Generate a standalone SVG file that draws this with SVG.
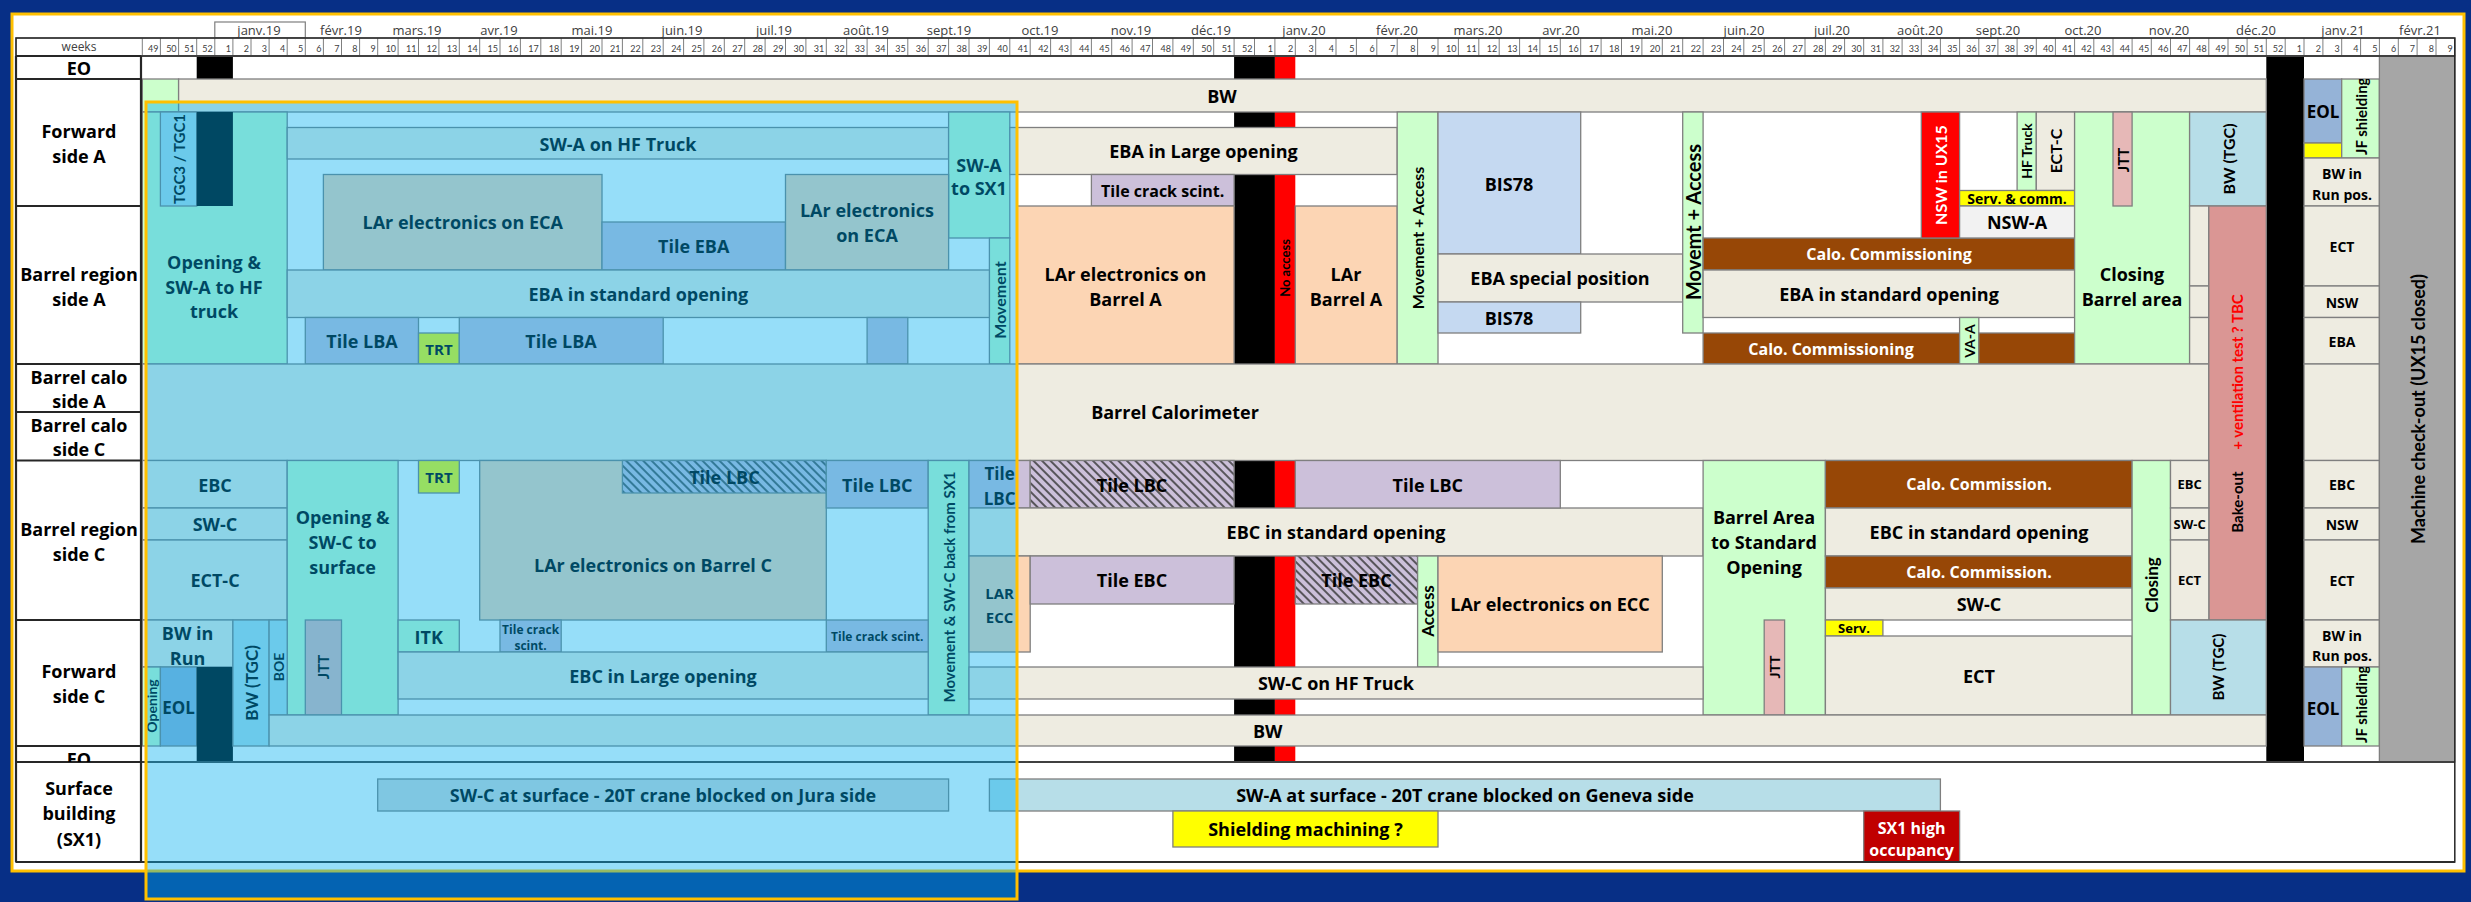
<svg xmlns="http://www.w3.org/2000/svg" width="2471" height="902" viewBox="0 0 2471 902">
<defs>
<style>
.t{font-family:"Open Sans",Lato,"Liberation Sans",sans-serif;font-weight:700;font-size:18px;text-anchor:middle;dominant-baseline:central;fill:#000}
.v{font-family:Lato,"Open Sans","Liberation Sans",sans-serif}
.lb{font-size:18px}
.wk{font-family:Lato,"Liberation Sans",sans-serif;font-size:9px;text-anchor:end;fill:#404040}
.mo{font-family:"Open Sans","Liberation Sans",sans-serif;font-size:13px;text-anchor:middle;fill:#404040}
.r{stroke:#7f7f7f;stroke-width:1.3}
.bg{fill:#EEECE1}.lav{fill:#CCC0DA}.pch{fill:#FCD5B4}.grn{fill:#CCFFCC}.aq{fill:#B7DEE8}.bis{fill:#C5D9F1}.brn{fill:#974706}.red{fill:#FF0000}.pk{fill:#E6B8B7}.bko{fill:#DA9694}.eol{fill:#95B3D7}.yel{fill:#FFFF00}.gry{fill:#A6A6A6}.nsw{fill:#F2F2F2}.sg{fill:#D9D9D9}.dr{fill:#C00000}.hat{fill:url(#hatch)}.blk{fill:#000}
.wt{fill:#fff}.rt{fill:#FF0000}.st{text-anchor:start}
.s12{font-size:12px}.s13{font-size:13px}.s14{font-size:14px}.s15{font-size:15px}.s16{font-size:16px}.s17{font-size:17px}.s20{font-size:20px}
</style>
<pattern id="hatch" patternUnits="userSpaceOnUse" width="6" height="6" patternTransform="rotate(-45)"><rect width="6" height="6" fill="#CCC0DA"/><line x1="3" y1="0" x2="3" y2="6" stroke="#3a3a3a" stroke-width="1.6"/></pattern>
<clipPath id="cj1"><rect x="2341.7" y="79" width="37.7" height="79"/></clipPath>
<clipPath id="cj2"><rect x="2341.7" y="667" width="37.7" height="79"/></clipPath>
<clipPath id="ceo"><rect x="16" y="746" width="125" height="16"/></clipPath>
</defs>
<rect width="2471" height="902" fill="#072F86"/>
<rect x="12" y="14" width="2452" height="857" fill="#fff" stroke="#FFC000" stroke-width="3"/>

<g id="header">
<rect x="214.8" y="22" width="90.5" height="16" fill="none" stroke="#7f7f7f" stroke-width="1.2"/>
<g class="mo">
<text x="259" y="35">janv.19</text><text x="341" y="35">févr.19</text><text x="417" y="35">mars.19</text><text x="499" y="35">avr.19</text><text x="592" y="35">mai.19</text><text x="682" y="35">juin.19</text><text x="774" y="35">juil.19</text><text x="866" y="35">août.19</text><text x="949" y="35">sept.19</text><text x="1040" y="35">oct.19</text><text x="1131" y="35">nov.19</text><text x="1211" y="35">déc.19</text><text x="1304" y="35">janv.20</text><text x="1397" y="35">févr.20</text><text x="1478" y="35">mars.20</text><text x="1561" y="35">avr.20</text><text x="1652" y="35">mai.20</text><text x="1744" y="35">juin.20</text><text x="1832" y="35">juil.20</text><text x="1920" y="35">août.20</text><text x="1998" y="35">sept.20</text><text x="2083" y="35">oct.20</text><text x="2169" y="35">nov.20</text><text x="2256" y="35">déc.20</text><text x="2343" y="35">janv.21</text><text x="2420" y="35">févr.21</text>
</g>
<rect x="16" y="38" width="2438.8" height="18" fill="#fff" stroke="#7f7f7f" stroke-width="1.2"/>
<text class="mo" x="79" y="51" style="font-size:12px">weeks</text>
<path fill="none" stroke="#7f7f7f" stroke-width="1" d="M142.3 38V56M160.4 38V56M178.6 38V56M196.7 38V56M214.8 38V56M232.9 38V56M251 38V56M269.1 38V56M287.2 38V56M305.3 38V56M323.4 38V56M341.5 38V56M359.6 38V56M377.7 38V56M398.1 38V56M418.5 38V56M438.9 38V56M459.3 38V56M479.7 38V56M500 38V56M520.4 38V56M540.8 38V56M561.2 38V56M581.6 38V56M602 38V56M622.4 38V56M642.8 38V56M663.2 38V56M683.6 38V56M703.9 38V56M724.3 38V56M744.7 38V56M765.1 38V56M785.5 38V56M805.9 38V56M826.3 38V56M846.7 38V56M867.1 38V56M887.5 38V56M907.8 38V56M928.2 38V56M948.6 38V56M969 38V56M989.4 38V56M1009.8 38V56M1030.2 38V56M1050.6 38V56M1071 38V56M1091.4 38V56M1111.7 38V56M1132.1 38V56M1152.5 38V56M1172.9 38V56M1193.3 38V56M1213.7 38V56M1234.1 38V56M1254.5 38V56M1274.9 38V56M1295.3 38V56M1315.7 38V56M1336 38V56M1356.4 38V56M1376.8 38V56M1397.2 38V56M1417.6 38V56M1438 38V56M1458.4 38V56M1478.8 38V56M1499.2 38V56M1519.6 38V56M1539.9 38V56M1560.3 38V56M1580.7 38V56M1601.1 38V56M1621.5 38V56M1641.9 38V56M1662.3 38V56M1682.7 38V56M1703.1 38V56M1723.5 38V56M1743.8 38V56M1764.2 38V56M1784.6 38V56M1805 38V56M1825.4 38V56M1844.6 38V56M1863.7 38V56M1882.9 38V56M1902.1 38V56M1921.3 38V56M1940.4 38V56M1959.6 38V56M1978.8 38V56M1997.9 38V56M2017.1 38V56M2036.3 38V56M2055.4 38V56M2074.6 38V56M2093.8 38V56M2113 38V56M2132.1 38V56M2151.3 38V56M2170.5 38V56M2189.6 38V56M2208.8 38V56M2228 38V56M2247.1 38V56M2266.3 38V56M2285.2 38V56M2304 38V56M2322.9 38V56M2341.7 38V56M2360.6 38V56M2379.4 38V56M2398.3 38V56M2417.1 38V56M2436 38V56M2454.8 38V56"/>
<g class="wk">
<text x="158.4" y="52">49</text><text x="176.6" y="52">50</text><text x="194.7" y="52">51</text><text x="212.8" y="52">52</text>
<text x="230.9" y="52">1</text><text x="249" y="52">2</text><text x="267.1" y="52">3</text><text x="285.2" y="52">4</text><text x="303.3" y="52">5</text><text x="321.4" y="52">6</text><text x="339.5" y="52">7</text><text x="357.6" y="52">8</text><text x="375.7" y="52">9</text><text x="396.1" y="52">10</text><text x="416.5" y="52">11</text><text x="436.9" y="52">12</text><text x="457.3" y="52">13</text><text x="477.7" y="52">14</text><text x="498" y="52">15</text><text x="518.4" y="52">16</text><text x="538.8" y="52">17</text><text x="559.2" y="52">18</text><text x="579.6" y="52">19</text><text x="600" y="52">20</text><text x="620.4" y="52">21</text><text x="640.8" y="52">22</text><text x="661.2" y="52">23</text><text x="681.6" y="52">24</text><text x="701.9" y="52">25</text><text x="722.3" y="52">26</text><text x="742.7" y="52">27</text><text x="763.1" y="52">28</text><text x="783.5" y="52">29</text><text x="803.9" y="52">30</text><text x="824.3" y="52">31</text><text x="844.7" y="52">32</text><text x="865.1" y="52">33</text><text x="885.5" y="52">34</text><text x="905.8" y="52">35</text><text x="926.2" y="52">36</text><text x="946.6" y="52">37</text><text x="967" y="52">38</text><text x="987.4" y="52">39</text><text x="1007.8" y="52">40</text><text x="1028.2" y="52">41</text><text x="1048.6" y="52">42</text><text x="1069" y="52">43</text><text x="1089.4" y="52">44</text><text x="1109.7" y="52">45</text><text x="1130.1" y="52">46</text><text x="1150.5" y="52">47</text><text x="1170.9" y="52">48</text><text x="1191.3" y="52">49</text><text x="1211.7" y="52">50</text><text x="1232.1" y="52">51</text><text x="1252.5" y="52">52</text>
<text x="1272.9" y="52">1</text><text x="1293.3" y="52">2</text><text x="1313.7" y="52">3</text><text x="1334" y="52">4</text><text x="1354.4" y="52">5</text><text x="1374.8" y="52">6</text><text x="1395.2" y="52">7</text><text x="1415.6" y="52">8</text><text x="1436" y="52">9</text><text x="1456.4" y="52">10</text><text x="1476.8" y="52">11</text><text x="1497.2" y="52">12</text><text x="1517.6" y="52">13</text><text x="1537.9" y="52">14</text><text x="1558.3" y="52">15</text><text x="1578.7" y="52">16</text><text x="1599.1" y="52">17</text><text x="1619.5" y="52">18</text><text x="1639.9" y="52">19</text><text x="1660.3" y="52">20</text><text x="1680.7" y="52">21</text><text x="1701.1" y="52">22</text><text x="1721.5" y="52">23</text><text x="1741.8" y="52">24</text><text x="1762.2" y="52">25</text><text x="1782.6" y="52">26</text><text x="1803" y="52">27</text><text x="1823.4" y="52">28</text><text x="1842.6" y="52">29</text><text x="1861.7" y="52">30</text><text x="1880.9" y="52">31</text><text x="1900.1" y="52">32</text><text x="1919.3" y="52">33</text><text x="1938.4" y="52">34</text><text x="1957.6" y="52">35</text><text x="1976.8" y="52">36</text><text x="1995.9" y="52">37</text><text x="2015.1" y="52">38</text><text x="2034.3" y="52">39</text><text x="2053.4" y="52">40</text><text x="2072.6" y="52">41</text><text x="2091.8" y="52">42</text><text x="2111" y="52">43</text><text x="2130.1" y="52">44</text><text x="2149.3" y="52">45</text><text x="2168.5" y="52">46</text><text x="2187.6" y="52">47</text><text x="2206.8" y="52">48</text><text x="2226" y="52">49</text><text x="2245.1" y="52">50</text><text x="2264.3" y="52">51</text><text x="2283.2" y="52">52</text>
<text x="2302" y="52">1</text><text x="2320.9" y="52">2</text><text x="2339.7" y="52">3</text><text x="2358.6" y="52">4</text><text x="2377.4" y="52">5</text><text x="2396.3" y="52">6</text><text x="2415.1" y="52">7</text><text x="2434" y="52">8</text><text x="2452.8" y="52">9</text>
</g>
</g>

<g id="n-eo-black-2019"><rect class="blk" x="196.7" y="56" width="36.2" height="23"/></g>
<g id="n-xmas-2019"><rect class="blk" x="1234.1" y="56" width="40.8" height="706"/><rect class="red" x="1274.9" y="56" width="20.4" height="706"/><text class="t v s13" transform="rotate(-90 1285 268)" x="1285" y="268">No access</text></g>
<g id="n-xmas-2020"><rect class="blk" x="2266.3" y="56" width="37.7" height="706"/></g>

<g id="n-green-w49"><rect class="r grn" x="142.3" y="79" width="36.3" height="33"/></g>
<g id="n-bw-top"><rect class="r bg" x="178.6" y="79" width="2087.7" height="33"/><text class="t" x="1222" y="96">BW</text></g>
<g id="n-opening-swa"><rect class="r grn" x="142.3" y="112" width="144.9" height="252"/><text class="t" x="214" y="262">Opening &amp;</text><text class="t" x="214" y="287">SW-A to HF</text><text class="t" x="214" y="311">truck</text></g>
<g id="n-tgc3"><rect class="r aq" x="160.4" y="112" width="36.3" height="94"/><text class="t v s15" transform="rotate(-90 178.5 159)" x="178.5" y="159">TGC3 / TGC1</text></g>
<g id="n-black-a"><rect class="blk" x="196.7" y="112" width="36.2" height="94"/></g>
<g id="n-swa-hf"><rect class="r bg" x="287.2" y="127.5" width="661.4" height="31.5"/><text class="t" x="618" y="143.5">SW-A on HF Truck</text></g>
<g id="n-swa-sx1"><rect class="r grn" x="948.6" y="112" width="61.2" height="126"/><text class="t" x="979" y="165">SW-A</text><text class="t" x="979" y="188">to SX1</text></g>
<g id="n-lar-eca"><rect class="r pch" x="323.4" y="174.5" width="278.6" height="95.5"/><text class="t" x="462.7" y="222">LAr electronics on ECA</text></g>
<g id="n-tile-eba"><rect class="r lav" x="602" y="222" width="183.5" height="48"/><text class="t" x="693.7" y="246">Tile EBA</text></g>
<g id="n-lar-eca2"><rect class="r pch" x="785.5" y="174.5" width="163.1" height="95.5"/><text class="t" x="867" y="210">LAr electronics</text><text class="t" x="867" y="235">on ECA</text></g>
<g id="n-movement-a"><rect class="r grn" x="989.4" y="238" width="20.4" height="126"/><text class="t v s16" transform="rotate(-90 999.6 300)" x="999.6" y="300">Movement</text></g>
<g id="n-eba-std"><rect class="r bg" x="287.2" y="270" width="702.2" height="47.5"/><text class="t" x="638.3" y="294">EBA in standard opening</text></g>
<g id="n-tile-lba1"><rect class="r lav" x="305.3" y="317.5" width="113.2" height="46.5"/><text class="t" x="362" y="341">Tile LBA</text></g>
<g id="n-trt-a"><rect class="r yel" x="418.5" y="333" width="40.8" height="31"/><text class="t s15" x="439" y="349">TRT</text></g>
<g id="n-tile-lba2"><rect class="r lav" x="459.3" y="317.5" width="203.9" height="46.5"/><text class="t" x="561" y="341">Tile LBA</text></g>
<g id="n-lav-cell"><rect class="r lav" x="867.1" y="317.5" width="40.7" height="46.5"/></g>

<g id="n-eba-large"><rect class="r bg" x="1009.8" y="127.5" width="387.4" height="47"/><text class="t" x="1203.5" y="151">EBA in Large opening</text></g>
<g id="n-tile-crack-a"><rect class="r lav" x="1091.4" y="174.5" width="142.7" height="31.5"/><text class="t s16" x="1162.7" y="190.5">Tile crack scint.</text></g>
<g id="n-lar-barrel-a"><rect class="r pch" x="1017" y="206" width="217.1" height="158"/><text class="t" x="1125.5" y="274">LAr electronics on</text><text class="t" x="1125.5" y="299">Barrel A</text></g>
<g id="n-lar-barrel-a2"><rect class="r pch" x="1295.3" y="206" width="101.9" height="158"/><text class="t" x="1346" y="274">LAr</text><text class="t" x="1346" y="299">Barrel A</text></g>
<g id="n-mov-access1"><rect class="r grn" x="1397.2" y="112" width="40.8" height="252"/><text class="t v s16" transform="rotate(-90 1417.6 238)" x="1417.6" y="238">Movement + Access</text></g>
<g id="n-bis78-1"><rect class="r bis" x="1438" y="112" width="142.7" height="142"/><text class="t" x="1509" y="184">BIS78</text></g>
<g id="n-eba-special"><rect class="r bg" x="1438" y="254" width="244.7" height="48"/><text class="t" x="1560" y="278">EBA special position</text></g>
<g id="n-bis78-2"><rect class="r bis" x="1438" y="302" width="142.7" height="31"/><text class="t" x="1509" y="317.5">BIS78</text></g>
<g id="n-mov-access2"><rect class="r grn" x="1682.7" y="112" width="20.4" height="221"/><text class="t v s20" transform="rotate(-90 1693 222)" x="1693" y="222">Movemt + Access</text></g>
<g id="n-calo-comm1"><rect class="r brn" x="1703.1" y="238" width="371.5" height="32"/><text class="t s16 wt" x="1889" y="254">Calo. Commissioning</text></g>
<g id="n-eba-std2"><rect class="r bg" x="1703.1" y="270" width="371.5" height="47.5"/><text class="t" x="1889" y="294">EBA in standard opening</text></g>
<g id="n-calo-comm2"><rect class="r brn" x="1703.1" y="333" width="256.5" height="31"/><text class="t s16 wt" x="1831" y="349">Calo. Commissioning</text></g>
<g id="n-va-a"><rect class="r grn" x="1959.6" y="317.5" width="19.2" height="46.5"/><text class="t v s14" transform="rotate(-90 1969.2 341)" x="1969.2" y="341">VA-A</text></g>
<g id="n-brown-cell"><rect class="r brn" x="1978.8" y="333" width="95.8" height="31"/></g>
<g id="n-nsw-ux15"><rect class="r red" x="1921.3" y="112" width="38.3" height="126"/><text class="t v s16 wt" transform="rotate(-90 1940.5 175)" x="1940.5" y="175">NSW in UX15</text></g>
<g id="n-hf-truck"><rect class="r grn" x="2017.1" y="112" width="19.2" height="78.5"/><text class="t v s14" transform="rotate(-90 2026.7 151)" x="2026.7" y="151">HF Truck</text></g>
<g id="n-ect-c-top"><rect class="r bg" x="2036.3" y="112" width="38.3" height="78.5"/><text class="t v s16" transform="rotate(-90 2055.5 151)" x="2055.5" y="151">ECT-C</text></g>
<g id="n-serv-comm"><rect class="r yel" x="1959.6" y="190.5" width="115" height="15.5"/><text class="t s14" x="2017" y="198.5">Serv. &amp; comm.</text></g>
<g id="n-nsw-a"><rect class="r nsw" x="1959.6" y="206" width="115" height="32"/><text class="t" x="2017" y="222">NSW-A</text></g>
<g id="n-closing-a"><rect class="r grn" x="2074.6" y="112" width="115" height="252"/><text class="t" x="2132" y="274">Closing</text><text class="t" x="2132" y="299">Barrel area</text></g>
<g id="n-jtt-a"><rect class="r pk" x="2113" y="112" width="19.1" height="94"/><text class="t v s15" transform="rotate(-90 2122.5 160)" x="2122.5" y="160">JTT</text></g>
<g id="n-bw-tgc-a"><rect class="r aq" x="2189.6" y="112" width="76.7" height="94"/><text class="t v s16" transform="rotate(-90 2228 159)" x="2228" y="159">BW (TGC)</text></g>
<g id="n-cells-a"><rect class="r bg" x="2189.6" y="206" width="19.2" height="80"/><rect class="r bg" x="2189.6" y="286" width="19.2" height="31.5"/><rect class="r bg" x="2189.6" y="317.5" width="19.2" height="46.5"/></g>

<g id="n-barrel-calo"><rect class="r bg" x="142.3" y="364" width="2066.5" height="96.5"/><text class="t" x="1175" y="412">Barrel Calorimeter</text></g>
<g id="n-bakeout"><rect class="r bko" x="2208.8" y="206" width="57.5" height="414"/><text class="t v s15" transform="rotate(-90 2237 502)" x="2237" y="502">Bake-out</text><text class="t v s15 rt" transform="rotate(-90 2237 372)" x="2237" y="372">+ ventilation test ? TBC</text></g>

<g id="n-eol-top"><rect class="r eol" x="2304" y="79" width="37.7" height="64"/><text class="t s17" x="2323" y="111">EOL</text></g>
<g id="n-yellow-top"><rect class="r yel" x="2304" y="143" width="37.7" height="15"/></g>
<g id="n-jf-top"><rect class="r grn" x="2341.7" y="79" width="37.7" height="79"/><g clip-path="url(#cj1)"><text class="t v s15 st" transform="rotate(-90 2360.5 155)" x="2360.5" y="155">JF shielding</text></g></g>
<g id="n-bw-run-top"><rect class="r bg" x="2304" y="158" width="75.4" height="48"/><text class="t s14" x="2342" y="173">BW in</text><text class="t s14" x="2342" y="194">Run pos.</text></g>
<g id="n-r-ect-a"><rect class="r bg" x="2304" y="206" width="75.4" height="80"/><text class="t s14" x="2342" y="246">ECT</text></g>
<g id="n-r-nsw-a"><rect class="r bg" x="2304" y="286" width="75.4" height="31.5"/><text class="t s14" x="2342" y="302">NSW</text></g>
<g id="n-r-eba"><rect class="r bg" x="2304" y="317.5" width="75.4" height="46.5"/><text class="t s14" x="2342" y="341">EBA</text></g>
<g id="n-r-calo"><rect class="r bg" x="2304" y="364" width="75.4" height="96.5"/></g>
<g id="n-r-ebc"><rect class="r bg" x="2304" y="460.5" width="75.4" height="47.5"/><text class="t s14" x="2342" y="484">EBC</text></g>
<g id="n-r-nsw-c"><rect class="r bg" x="2304" y="508" width="75.4" height="32"/><text class="t s14" x="2342" y="524">NSW</text></g>
<g id="n-r-ect-c"><rect class="r bg" x="2304" y="540" width="75.4" height="80"/><text class="t s14" x="2342" y="580">ECT</text></g>
<g id="n-bw-run-bot"><rect class="r bg" x="2304" y="620" width="75.4" height="47"/><text class="t s14" x="2342" y="635">BW in</text><text class="t s14" x="2342" y="655">Run pos.</text></g>
<g id="n-eol-bot"><rect class="r eol" x="2304" y="667" width="37.7" height="79"/><text class="t s17" x="2323" y="708">EOL</text></g>
<g id="n-jf-bot"><rect class="r grn" x="2341.7" y="667" width="37.7" height="79"/><g clip-path="url(#cj2)"><text class="t v s15 st" transform="rotate(-90 2360.5 743)" x="2360.5" y="743">JF shielding</text></g></g>
<g id="n-machine"><rect class="r gry" x="2379.4" y="56" width="75.4" height="706"/><text class="t v" transform="rotate(-90 2418 409)" x="2418" y="409">Machine check-out (UX15 closed)</text></g>

<g id="n-ebc-l"><rect class="r bg" x="142.3" y="460.5" width="144.9" height="47.5"/><text class="t" x="215" y="485">EBC</text></g>
<g id="n-swc-l"><rect class="r bg" x="142.3" y="508" width="144.9" height="32"/><text class="t" x="215" y="524">SW-C</text></g>
<g id="n-ectc-l"><rect class="r bg" x="142.3" y="540" width="144.9" height="80"/><text class="t" x="215" y="580">ECT-C</text></g>
<g id="n-opening-swc"><rect class="r grn" x="287.2" y="460.5" width="110.9" height="254.5"/><text class="t" x="342.6" y="517">Opening &amp;</text><text class="t" x="342.6" y="542">SW-C to</text><text class="t" x="342.6" y="567">surface</text></g>
<g id="n-trt-c"><rect class="r yel" x="418.5" y="460.5" width="40.8" height="32.5"/><text class="t s15" x="439" y="477">TRT</text></g>
<g id="n-lar-barrel-c"><rect class="r pch" x="479.7" y="460.5" width="346.6" height="159.5"/><text class="t" x="653" y="565">LAr electronics on Barrel C</text></g>
<g id="n-tile-lbc-h1"><rect class="r hat" x="622.4" y="460.5" width="203.9" height="32.5"/><text class="t" x="724.4" y="477">Tile LBC</text></g>
<g id="n-tile-lbc1"><rect class="r lav" x="826.3" y="460.5" width="101.9" height="47.5"/><text class="t" x="877.3" y="485">Tile LBC</text></g>
<g id="n-mov-swc"><rect class="r grn" x="928.2" y="460.5" width="40.8" height="254.5"/><text class="t v s15" transform="rotate(-90 948.6 587)" x="948.6" y="587">Movement &amp; SW-C back from SX1</text></g>
<g id="n-tile-lbc2"><rect class="r lav" x="969" y="460.5" width="61.2" height="47.5"/><text class="t s17" x="999.6" y="473">Tile</text><text class="t s17" x="999.6" y="498">LBC</text></g>
<g id="n-tile-lbc-h2"><rect class="r hat" x="1030.2" y="460.5" width="203.9" height="47.5"/><text class="t" x="1132" y="485">Tile LBC</text></g>
<g id="n-ebc-std1"><rect class="r bg" x="969" y="508" width="734.1" height="48"/><text class="t" x="1336" y="532">EBC in standard opening</text></g>
<g id="n-lar-ecc-small"><rect class="r pch" x="969" y="556" width="61.2" height="96"/><text class="t s15" x="999.6" y="593">LAR</text><text class="t s15" x="999.6" y="617">ECC</text></g>
<g id="n-tile-ebc1"><rect class="r lav" x="1030.2" y="556" width="203.9" height="48"/><text class="t" x="1132" y="580">Tile EBC</text></g>
<g id="n-tile-lbc3"><rect class="r lav" x="1295.3" y="460.5" width="265" height="47.5"/><text class="t" x="1427.8" y="485">Tile LBC</text></g>
<g id="n-tile-ebc-h"><rect class="r hat" x="1295.3" y="556" width="122.3" height="48"/><text class="t" x="1356.5" y="580">Tile EBC</text></g>
<g id="n-access"><rect class="r grn" x="1417.6" y="556" width="20.4" height="111"/><text class="t v s17" transform="rotate(-90 1427.8 611)" x="1427.8" y="611">Access</text></g>
<g id="n-lar-ecc"><rect class="r pch" x="1438" y="556" width="224.3" height="96"/><text class="t" x="1550" y="604">LAr electronics on ECC</text></g>
<g id="n-barrel-area"><rect class="r grn" x="1703.1" y="460.5" width="122.3" height="254.5"/><text class="t" x="1764" y="517">Barrel Area</text><text class="t" x="1764" y="542">to Standard</text><text class="t" x="1764" y="567">Opening</text></g>
<g id="n-jtt-c"><rect class="r pk" x="1764.2" y="620" width="20.4" height="95"/><text class="t v s14" transform="rotate(-90 1774.4 667)" x="1774.4" y="667">JTT</text></g>
<g id="n-calo-cm1"><rect class="r brn" x="1825.4" y="460.5" width="306.7" height="47.5"/><text class="t s16 wt" x="1979" y="484">Calo. Commission.</text></g>
<g id="n-ebc-std2"><rect class="r bg" x="1825.4" y="508" width="306.7" height="48"/><text class="t" x="1979" y="532">EBC in standard opening</text></g>
<g id="n-calo-cm2"><rect class="r brn" x="1825.4" y="556" width="306.7" height="32"/><text class="t s16 wt" x="1979" y="572">Calo. Commission.</text></g>
<g id="n-swc-r"><rect class="r bg" x="1825.4" y="588" width="306.7" height="32"/><text class="t" x="1979" y="604">SW-C</text></g>
<g id="n-serv"><rect class="r yel" x="1825.4" y="620" width="57.5" height="16"/><text class="t s13" x="1854" y="628">Serv.</text></g>
<g id="n-ect-big"><rect class="r bg" x="1825.4" y="636" width="306.7" height="79"/><text class="t" x="1979" y="676">ECT</text></g>
<g id="n-closing-c"><rect class="r grn" x="2132.1" y="460.5" width="38.4" height="254.5"/><text class="t v s17" transform="rotate(-90 2151 585)" x="2151" y="585">Closing</text></g>
<g id="n-ebc-s"><rect class="r bg" x="2170.5" y="460.5" width="38.3" height="47.5"/><text class="t s13" x="2189.6" y="484">EBC</text></g>
<g id="n-swc-s"><rect class="r bg" x="2170.5" y="508" width="38.3" height="32"/><text class="t s13" x="2189.6" y="524">SW-C</text></g>
<g id="n-ect-s"><rect class="r bg" x="2170.5" y="540" width="38.3" height="80"/><text class="t s13" x="2189.6" y="580">ECT</text></g>
<g id="n-bw-tgc-c"><rect class="r aq" x="2170.5" y="620" width="95.8" height="95"/><text class="t v s15" transform="rotate(-90 2218 667)" x="2218" y="667">BW (TGC)</text></g>

<g id="n-bw-run-l"><rect class="r bg" x="142.3" y="620" width="90.6" height="47"/><text class="t" x="187.6" y="633">BW in</text><text class="t" x="187.6" y="658">Run</text></g>
<g id="n-opening-c"><rect class="r grn" x="142.3" y="667" width="18.1" height="79"/><text class="t v s14" transform="rotate(-90 151.5 706)" x="151.5" y="706">Opening</text></g>
<g id="n-eol-l"><rect class="r eol" x="160.4" y="667" width="36.3" height="79"/><text class="t s17" x="178.5" y="707">EOL</text></g>
<g id="n-black-c"><rect class="blk" x="196.7" y="667" width="36.2" height="95"/></g>
<g id="n-bw-tgc-l"><rect class="r aq" x="232.9" y="620" width="36.2" height="126"/><text class="t v s17" transform="rotate(-90 251 683)" x="251" y="683">BW (TGC)</text></g>
<g id="n-boe"><rect class="r aq" x="269.1" y="620" width="18.1" height="95"/><text class="t v s14" transform="rotate(-90 278.2 667)" x="278.2" y="667">BOE</text></g>
<g id="n-jtt-l"><rect class="r pk" x="305.3" y="620" width="36.2" height="95"/><text class="t v s15" transform="rotate(-90 323.4 667)" x="323.4" y="667">JTT</text></g>
<g id="n-itk"><rect class="r grn" x="398.1" y="620" width="61.2" height="32"/><text class="t" x="428.7" y="637">ITK</text></g>
<g id="n-tile-crack-s"><rect class="r lav" x="500" y="620" width="61.2" height="32"/><text class="t s12" x="530.6" y="629">Tile crack</text><text class="t s12" x="530.6" y="645">scint.</text></g>
<g id="n-tile-crack-c"><rect class="r lav" x="826.3" y="620" width="101.9" height="32"/><text class="t s12" x="877.3" y="636">Tile crack scint.</text></g>
<g id="n-ebc-large"><rect class="r bg" x="398.1" y="652" width="530.1" height="47"/><text class="t" x="663" y="676">EBC in Large opening</text></g>
<g id="n-swc-hf"><rect class="r bg" x="969" y="667" width="734.1" height="32"/><text class="t" x="1336" y="683">SW-C on HF Truck</text></g>
<g id="n-bw-bot"><rect class="r bg" x="269.1" y="715" width="1997.2" height="31"/><text class="t" x="1267.7" y="731">BW</text></g>

<g id="n-swc-surface"><rect class="r sg" x="377.7" y="779" width="570.9" height="32"/><text class="t" x="663" y="795">SW-C at surface - 20T crane blocked on Jura side</text></g>
<g id="n-swa-surface"><rect class="r aq" x="989.4" y="779" width="951" height="32"/><text class="t" x="1465" y="795">SW-A at surface - 20T crane blocked on Geneva side</text></g>
<g id="n-shielding"><rect class="r yel" x="1172.9" y="811" width="265.1" height="36"/><text class="t" x="1305.5" y="829">Shielding machining ?</text></g>
<g id="n-sx1-high"><rect class="r dr" x="1863.7" y="811" width="95.9" height="51"/><text class="t s16 wt" x="1911.6" y="828">SX1 high</text><text class="t s16 wt" x="1911.6" y="850">occupancy</text></g>

<g id="grid-lines" fill="none">
<path stroke="#404040" stroke-width="2" d="M16 56H2455M16 762H2455M16 862H2455"/>
<rect x="16" y="38" width="2438.8" height="824" stroke="#262626" stroke-width="1.5"/>
</g>

<g id="row-labels">
<rect x="16" y="56" width="125" height="806" fill="#fff"/>
<path fill="none" stroke="#262626" stroke-width="2.2" d="M16 56V862M141 56V862M16 56H141M16 79H141M16 206H141M16 364H141M16 412H141M16 460.5H141M16 620H141M16 746H141M16 762H141M16 862H141"/>
<text class="t lb" x="79" y="68">EO</text>
<text class="t lb" x="79" y="131">Forward</text><text class="t lb" x="79" y="156">side A</text>
<text class="t lb" x="79" y="274">Barrel region</text><text class="t lb" x="79" y="299">side A</text>
<text class="t lb" x="79" y="377">Barrel calo</text><text class="t lb" x="79" y="401">side A</text>
<text class="t lb" x="79" y="425">Barrel calo</text><text class="t lb" x="79" y="449">side C</text>
<text class="t lb" x="79" y="529">Barrel region</text><text class="t lb" x="79" y="554">side C</text>
<text class="t lb" x="79" y="671">Forward</text><text class="t lb" x="79" y="696">side C</text>
<text class="t lb" x="79" y="759" clip-path="url(#ceo)">EO</text>
<text class="t lb" x="79" y="788">Surface</text><text class="t lb" x="79" y="813">building</text><text class="t lb" x="79" y="839">(SX1)</text>
</g>

<g id="past-overlay"><rect x="146" y="102" width="871" height="797" fill="#00B0F0" fill-opacity="0.41" stroke="#FFC000" stroke-width="3"/></g>
</svg>
